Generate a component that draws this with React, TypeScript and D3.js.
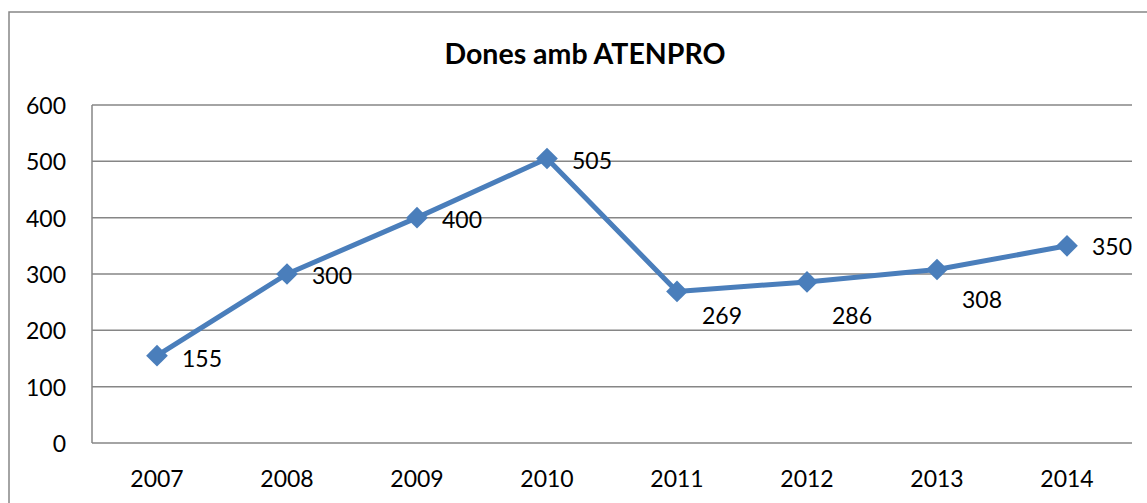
import * as d3 from 'd3'

const years = ['2007', '2008', '2009', '2010', '2011', '2012', '2013', '2014']
const women = [155, 300, 400, 505, 269, 286, 308, 350]
const yTicks = [0, 100, 200, 300, 400, 500, 600]
const title = 'Dones amb ATENPRO'

// label nudges (px), some labels were moved below the line in the original
const labelDy = [2, 1, 1, 1, 24, 33, 30, 0]

const W = 1147
const H = 503
const margin = { left: 92, right: 15, top: 105, bottom: 60 }
const font = 'Lato, "Open Sans", sans-serif'
const blue = '#4a7ebb'
const grid = '#868686'

export default function App() {
  const x = d3.scaleBand<string>()
    .domain(years)
    .range([margin.left, W - margin.right])
    .padding(0)
  const y = d3.scaleLinear().domain([0, 600]).range([H - margin.bottom, margin.top])
  const cx = (yr: string) => (x(yr) ?? 0) + x.bandwidth() / 2

  const pts = years.map((yr, i) => ({ yr, v: women[i], i }))
  const line = d3.line<{ yr: string; v: number }>()
    .x(d => cx(d.yr))
    .y(d => y(d.v))

  const diamond = d3.symbol().type(d3.symbolDiamond2).size(300)()

  return (
    <svg width={W} height={H} style={{ position: 'absolute', left: 0, top: 0, background: '#fff' }}>
      <rect x={9} y={12} width={W + 20} height={H + 20} fill="#fff" stroke={grid} strokeWidth={1.5} />
      <text x={585} y={53} textAnchor="middle" dominantBaseline="central"
        fontFamily={font} fontWeight="bold" fontSize={28.5} fill="#000">{title}</text>

      {yTicks.map(t => (
        <g key={t}>
          <line x1={margin.left} x2={W - margin.right} y1={y(t)} y2={y(t)} stroke={grid} strokeWidth={1.5} />
          <text x={66} y={y(t)} textAnchor="end" dominantBaseline="central"
            fontFamily={font} fontSize={23} fill="#000">{t}</text>
        </g>
      ))}
      <line x1={margin.left} x2={margin.left} y1={y(600)} y2={y(0)} stroke={grid} strokeWidth={1.5} />

      {years.map(yr => (
        <text key={yr} x={cx(yr)} y={478} textAnchor="middle" dominantBaseline="central"
          fontFamily={font} fontSize={23} fill="#000">{yr}</text>
      ))}

      <path d={line(pts) ?? ''} fill="none" stroke={blue} strokeWidth={5} strokeLinejoin="round" />
      {pts.map(p => (
        <path key={p.yr} d={diamond ?? ''} transform={`translate(${cx(p.yr)},${y(p.v)})`} fill={blue} />
      ))}
      {pts.map(p => (
        <text key={'l' + p.yr} x={cx(p.yr) + 25} y={y(p.v) + labelDy[p.i]} dominantBaseline="central"
          fontFamily={font} fontSize={23} fill="#000">{p.v}</text>
      ))}
    </svg>
  )
}
